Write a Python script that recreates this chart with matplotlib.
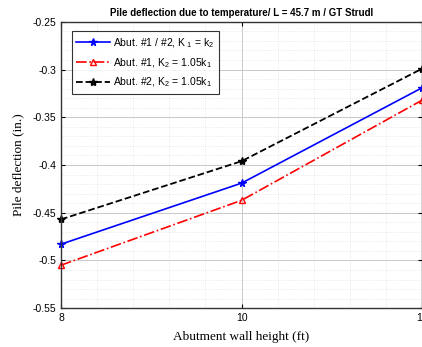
import matplotlib
matplotlib.use("Agg")
import matplotlib.pyplot as plt
from matplotlib.ticker import MultipleLocator

heights = [8, 10, 12]
abut_both = [-0.483, -0.419, -0.319]
abut1_k105 = [-0.505, -0.437, -0.332]
abut2_k105 = [-0.457, -0.396, -0.299]

labels = [
    r"Abut. #1 / #2, K$_{\ 1}$ = k$_2$",
    r"Abut. #1, K$_2$ = 1.05k$_1$",
    r"Abut. #2, K$_2$ = 1.05k$_1$",
]

plt.rcParams["font.family"] = ["Liberation Sans", "DejaVu Sans"]
plt.rcParams["mathtext.fontset"] = "custom"
plt.rcParams["mathtext.rm"] = "Liberation Sans"

fig = plt.figure(figsize=(4.22, 3.47), dpi=100)
ax = fig.add_axes([0.1445, 0.112, 0.856, 0.825])

ax.plot(heights, abut_both, color="blue", ls="-", lw=1.2, marker="*", ms=5.5, label=labels[0], clip_on=False)
ax.plot(heights, abut1_k105, color="red", ls="-.", lw=1.2, marker="^", ms=5, mfc="none", label=labels[1], clip_on=False)
ax.plot(heights, abut2_k105, color="black", ls="--", lw=1.3, marker="*", ms=6, label=labels[2], clip_on=False)

ax.set_xlim(8, 12)
ax.set_ylim(-0.55, -0.25)
ax.set_xticks([8, 10, 12])
ax.set_yticks([-0.55, -0.5, -0.45, -0.4, -0.35, -0.3, -0.25])
ax.set_yticklabels(["-0.55", "-0.5", "-0.45", "-0.4", "-0.35", "-0.3", "-0.25"])
ax.xaxis.set_minor_locator(MultipleLocator(0.4))
ax.yaxis.set_minor_locator(MultipleLocator(0.01))
ax.grid(which="major", color="#c8c8c8", lw=0.7)
ax.grid(which="minor", color="#dddddd", lw=0.5, ls=":")
ax.tick_params(which="both", direction="in", top=True, right=True, labelsize=7.5, length=3)
ax.tick_params(which="minor", length=0)
for s in ax.spines.values():
    s.set_linewidth(1.0)
    s.set_color("#333333")

ax.set_title("Pile deflection due to temperature/ L = 45.7 m / GT Strudl", fontsize=7, fontweight="bold", pad=4)
ax.set_xlabel("Abutment wall height (ft)", fontsize=9.5, family="Liberation Serif", labelpad=6)
ax.set_ylabel("Pile deflection (in.)", fontsize=9.5, family="Liberation Serif", labelpad=6)

leg = ax.legend(loc="upper left", fontsize=7.5, frameon=True, fancybox=False, edgecolor="black",
                handlelength=3.2, handletextpad=0.3, borderpad=0.45, labelspacing=0.6,
                bbox_to_anchor=(0.015, 0.985))
leg.get_frame().set_linewidth(0.8)

fig.savefig("out.png", dpi=100)
